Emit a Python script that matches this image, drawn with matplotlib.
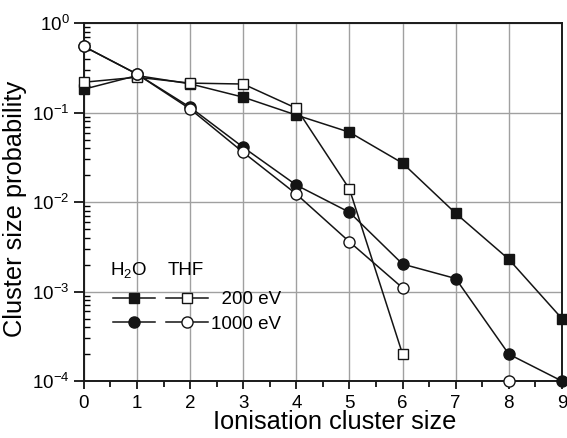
import numpy as np
import matplotlib.pyplot as plt
from matplotlib.legend_handler import HandlerTuple
from matplotlib.ticker import LogLocator, NullFormatter

plt.rcParams['font.family'] = ['Liberation Sans', 'DejaVu Sans']
plt.rcParams['mathtext.fontset'] = 'custom'
plt.rcParams['mathtext.rm'] = 'Liberation Sans'
plt.rcParams['mathtext.it'] = 'Liberation Sans'

cluster_size = [0, 1, 2, 3, 4, 5, 6, 7, 8, 9]
h2o_200 = [0.183, 0.26, 0.21, 0.149, 0.094, 0.0605, 0.0273, 0.0075, 0.0023, 0.0005]
thf_200 = [0.219, 0.249, 0.214, 0.209, 0.112, 0.014, 0.0002, np.nan, np.nan, np.nan]
h2o_1000 = [0.55, 0.27, 0.115, 0.041, 0.0155, 0.0077, 0.00203, 0.0014, 0.0002, 0.0001]
thf_1000 = [0.55, 0.27, 0.11, 0.036, 0.0123, 0.0036, 0.0011, np.nan, 0.0001, np.nan]

fig = plt.figure(figsize=(5.67, 4.38), dpi=100)
ax = fig.add_axes([0.148, 0.130, 0.843, 0.817])

kw = dict(color='#141414', lw=1.1, clip_on=False, zorder=3)
l1, = ax.plot(cluster_size, h2o_200, marker='s', ms=7, mfc='#141414', mec='#141414', **kw)
l2, = ax.plot(cluster_size, thf_200, marker='s', ms=7, mfc='white', mec='#141414', **kw)
l3, = ax.plot(cluster_size, h2o_1000, marker='o', ms=8, mfc='#141414', mec='#141414', **kw)
l4, = ax.plot(cluster_size, thf_1000, marker='o', ms=8, mfc='white', mec='#141414', **kw)

ax.set_yscale('log')
ax.set_xlim(0, 9)
ax.set_ylim(1e-4, 1)
ax.set_xticks(range(10))
ax.set_xticks(np.arange(0.5, 9, 1), minor=True)
ax.yaxis.set_minor_locator(LogLocator(base=10, subs=np.arange(2, 10)))
ax.yaxis.set_minor_formatter(NullFormatter())
ax.grid(True, which='major', color='#a0a0a0', lw=1)
ax.set_axisbelow(True)

ax.tick_params(axis='x', which='major', direction='out', length=6, width=1.2, labelsize=13.5, pad=4)
ax.tick_params(axis='x', which='minor', direction='out', length=4, width=1.2)
ax.tick_params(axis='y', which='major', direction='out', length=7, width=1.2, labelsize=13.5)
ax.tick_params(axis='y', which='minor', direction='in', length=4, width=1)
for s in ax.spines.values():
    s.set_linewidth(1.4)
    s.set_color('#1a1a1a')

ax.set_xlabel('Ionisation cluster size', fontsize=18.3)
ax.set_ylabel('Cluster size probability', fontsize=18.3)
ax.xaxis.set_label_coords(0.525, -0.082)
ax.yaxis.set_label_coords(-0.119, 0.48)

# legend: column headers as plain text, entries as paired handles
ax.text(0.054, 0.31, 'H$_2$O', transform=ax.transAxes, fontsize=13.5, va='center')
ax.text(0.176, 0.31, 'THF', transform=ax.transAxes, fontsize=13.5, va='center')
ax.legend([(l1, l2), (l3, l4)], ['  200 eV', '1000 eV'],
          handler_map={tuple: HandlerTuple(ndivide=None, pad=0.6)},
          fontsize=13.5, handlelength=5.07, handletextpad=0.17, frameon=False,
          loc='lower left', bbox_to_anchor=(0.025, 0.088), labelspacing=0.38,
          borderpad=0.4)

fig.savefig('out.png', dpi=100)
